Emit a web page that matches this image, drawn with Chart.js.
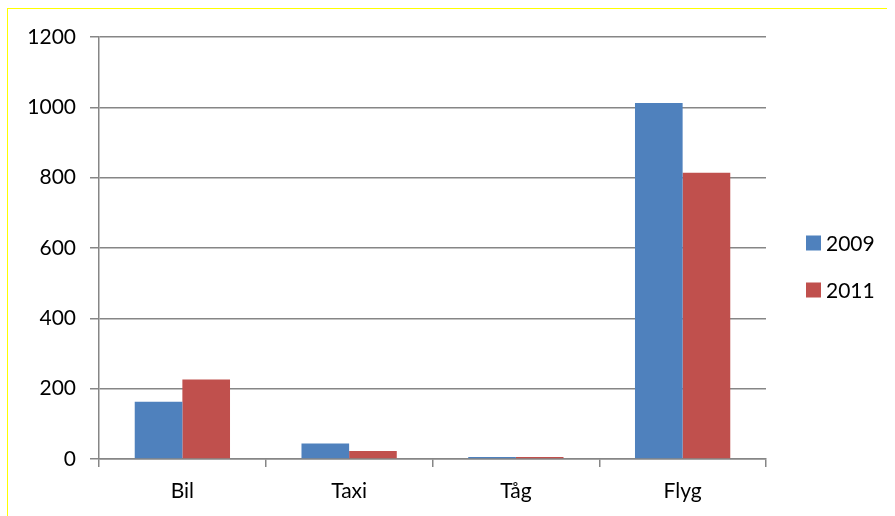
<!DOCTYPE html>
<html>
<head>
<meta charset="utf-8">
<script src="https://cdn.jsdelivr.net/npm/chart.js@4.4.1/dist/chart.umd.min.js"></script>
<style>
  html, body { margin: 0; padding: 0; background: #fff; }
  #wrap { position: relative; width: 895px; height: 516px; }
  #frame {
    position: absolute; left: 7px; top: 8px; width: 879px; height: 520px;
    border-top: 1px solid #ffff00; border-left: 1px solid #ffff00;
  }
  canvas { position: absolute; left: 0; top: 0; }
</style>
</head>
<body>
<div id="wrap">
  <div id="frame"></div>
  <canvas id="chart" width="895" height="516"></canvas>
</div>
<script>
const categories = ['Bil', 'Taxi', 'Tåg', 'Flyg'];
const seriesLabels = ['2009', '2011'];
const values2009 = [163, 44, 6, 1012];
const values2011 = [226, 23, 6, 814];
const yTicks = [0, 200, 400, 600, 800, 1000, 1200];

const seriesColors = ['#4f81bd', '#c0504d'];
const fontFamily = 'Lato, "Open Sans", sans-serif';

// legend drawn beside the plot like the Excel one
const sideLegend = {
  id: 'sideLegend',
  afterDraw(chart) {
    const { ctx, chartArea } = chart;
    ctx.save();
    ctx.font = '21px ' + fontFamily;
    ctx.textBaseline = 'middle';
    chart.data.datasets.forEach((ds, i) => {
      const cy = 243 + i * 47;
      ctx.fillStyle = ds.backgroundColor;
      ctx.fillRect(chartArea.right + 40, cy - 7.5, 15, 15);
      ctx.fillStyle = '#000';
      ctx.fillText(ds.label, chartArea.right + 60, cy + 1);
    });
    ctx.restore();
  },
};

const ctx = document.getElementById('chart');
new Chart(ctx, {
  type: 'bar',
  data: {
    labels: categories,
    datasets: [
      {
        label: seriesLabels[0],
        data: values2009,
        backgroundColor: seriesColors[0],
        borderWidth: 0,
      },
      {
        label: seriesLabels[1],
        data: values2011,
        backgroundColor: seriesColors[1],
        borderWidth: 0,
      },
    ],
  },
  options: {
    responsive: false,
    animation: false,
    layout: { padding: { left: 0, top: 37, right: 129, bottom: 0 } },
    datasets: {
      bar: { categoryPercentage: 2 / 3.5, barPercentage: 1 },
    },
    plugins: {
      legend: { display: false },
      tooltip: { enabled: false },
    },
    scales: {
      x: {
        grid: {
          offset: true,
          drawOnChartArea: false,
          color: '#868686',
          lineWidth: 1.5,
          tickLength: 8,
        },
        border: { color: '#868686', width: 1.5 },
        ticks: {
          color: '#000',
          font: { family: fontFamily, size: 21 },
          padding: 12,
        },
        afterFit(scale) {
          scale.height = 57;
        },
      },
      y: {
        min: 0,
        max: 1200,
        afterBuildTicks(scale) {
          scale.ticks = yTicks.map((v) => ({ value: v }));
        },
        grid: {
          color: '#868686',
          lineWidth: 1.5,
          tickLength: 9,
        },
        border: { color: '#868686', width: 1.5 },
        ticks: {
          color: '#000',
          font: { family: fontFamily, size: 21 },
          padding: 14,
          callback: (value) => String(value),
        },
        afterFit(scale) {
          scale.width = 99;
        },
      },
    },
  },
  plugins: [sideLegend],
});
</script>
</body>
</html>
